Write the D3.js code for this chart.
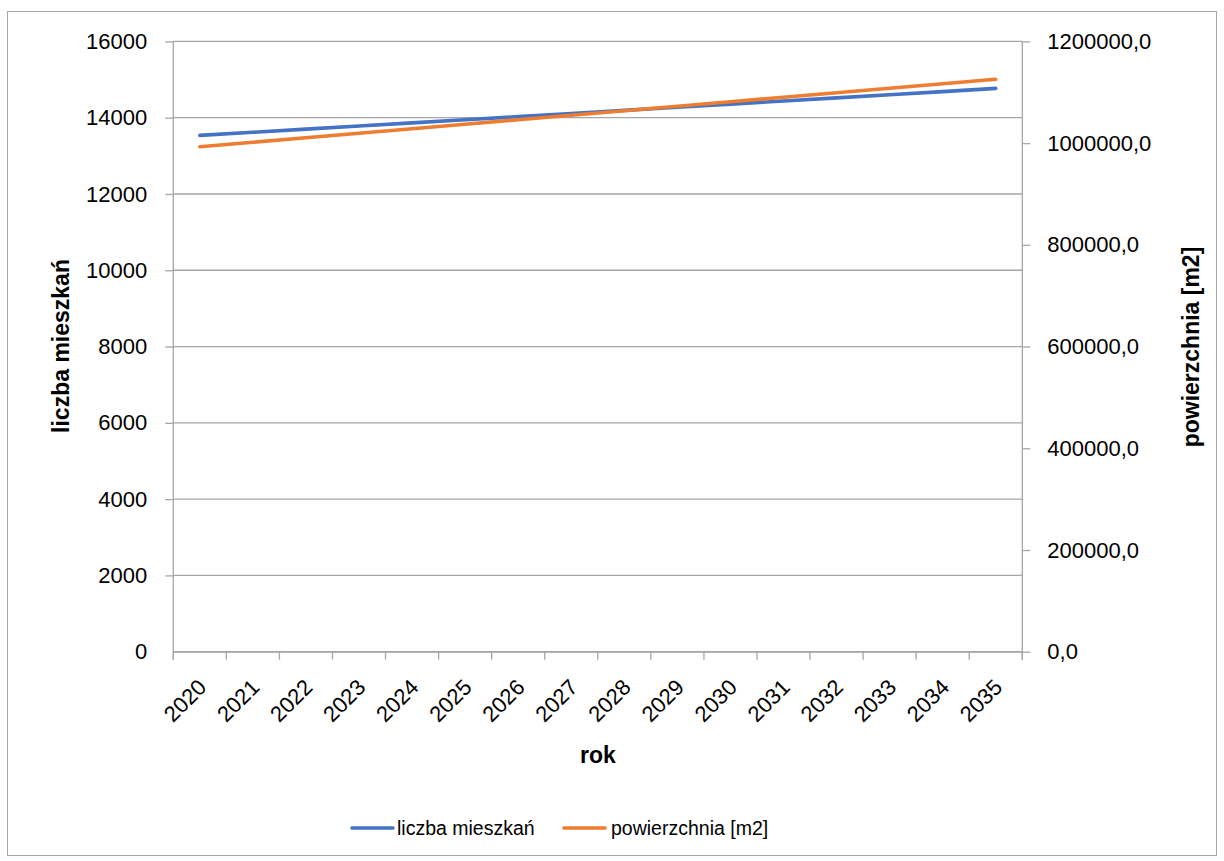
<!DOCTYPE html>
<html><head><meta charset="utf-8">
<script src="https://cdn.jsdelivr.net/npm/d3@7/dist/d3.min.js"></script>
<style>body{margin:0;background:#fff}svg{display:block}text{font-family:"Liberation Sans",Arial,sans-serif;fill:#000}</style>
</head><body>
<script>
const years = ["2020","2021","2022","2023","2024","2025","2026","2027","2028","2029","2030","2031","2032","2033","2034","2035"];
const mieszkania = [13536,13618,13700,13782,13864,13946,14028,14110,14192,14274,14356,14438,14520,14602,14684,14768];
const powierzchnia = [993000,1001800,1010700,1019500,1028300,1037200,1046000,1054800,1063700,1072500,1081300,1090200,1099000,1107800,1116700,1125500];
const leftTicks = [0,2000,4000,6000,8000,10000,12000,14000,16000];
const rightTicks = [0,200000,400000,600000,800000,1000000,1200000];
const seriesNames = ["liczba mieszkań","powierzchnia [m2]"];
const colors = ["#4472C4","#ED7D31"];

const W=1224,H=861;
const svg=d3.select("body").append("svg").attr("width",W).attr("height",H);
svg.append("rect").attr("x",7.5).attr("y",11.5).attr("width",1209).attr("height",844).attr("fill","#fff").attr("stroke","#a6a6a6").attr("stroke-width",1);

const L=173.3,R=1022.3,T=41.4,B=651.7;
const x=d3.scaleBand().domain(years).range([L,R]);
const yL=d3.scaleLinear().domain([0,16000]).range([B,T]);
const yR=d3.scaleLinear().domain([0,1200000]).range([B,T]);
const grid="#a6a6a6";

// gridlines
svg.append("g").selectAll("line").data(leftTicks).join("line")
  .attr("x1",L).attr("x2",R).attr("y1",d=>yL(d)).attr("y2",d=>yL(d))
  .attr("stroke",grid).attr("stroke-width",1.3);

// left axis
const gl=svg.append("g").attr("transform",`translate(${L},0)`)
  .call(d3.axisLeft(yL).tickValues(leftTicks).tickSize(8).tickPadding(18).tickFormat(d3.format("d")));
// right axis
const gr=svg.append("g").attr("transform",`translate(${R},0)`)
  .call(d3.axisRight(yR).tickValues(rightTicks).tickSize(8).tickPadding(17).tickFormat(d=>d.toFixed(1).replace(".",",")));
// bottom axis
const gb=svg.append("g").attr("transform",`translate(0,${B})`)
  .call(d3.axisBottom(x).tickSize(0).tickFormat(""));
svg.append("g").selectAll("line").data(d3.range(years.length+1)).join("line")
  .attr("x1",i=>L+i*x.step()).attr("x2",i=>L+i*x.step()).attr("y1",B).attr("y2",B+8)
  .attr("stroke",grid).attr("stroke-width",1.3);
svg.append("g").selectAll("text").data(years).join("text")
  .attr("transform",d=>`translate(${x(d)+x.bandwidth()/2-3},${B+26}) rotate(-45)`)
  .attr("text-anchor","end").attr("dy","0.7em").attr("font-size",22).text(d=>d);

[gl,gr,gb].forEach(g=>{
  g.select(".domain").attr("stroke",grid).attr("stroke-width",1.3);
  g.selectAll(".tick line").attr("stroke",grid).attr("stroke-width",1.3);
  g.selectAll(".tick text").attr("font-size",22).attr("fill","#000").style("font-family","Liberation Sans, Arial, sans-serif");
});
gl.select(".domain").attr("d",`M0,${B+8}V${T}`);
gr.select(".domain").attr("d",`M0,${B+8}V${T}`);
gl.selectAll(".tick").filter(d=>d===0).select("line").remove();
gr.selectAll(".tick").filter(d=>d===0).select("line").attr("x1",0);

// lines
const cx=d=>x(d)+x.bandwidth()/2;
svg.append("path").datum(years.map((y,i)=>[cx(y),yL(mieszkania[i])]))
  .attr("d",d3.line()).attr("fill","none").attr("stroke",colors[0]).attr("stroke-width",3.6).attr("stroke-linecap","round");
svg.append("path").datum(years.map((y,i)=>[cx(y),yR(powierzchnia[i])]))
  .attr("d",d3.line()).attr("fill","none").attr("stroke",colors[1]).attr("stroke-width",3.6).attr("stroke-linecap","round");

// axis titles
svg.append("text").attr("transform","translate(69,346) rotate(-90)").attr("text-anchor","middle")
  .attr("font-size",23).attr("font-weight","bold").text("liczba mieszkań");
svg.append("text").attr("transform","translate(1199,347) rotate(-90)").attr("text-anchor","middle")
  .attr("font-size",23).attr("font-weight","bold").text("powierzchnia [m2]");
svg.append("text").attr("x",598).attr("y",763).attr("text-anchor","middle")
  .attr("font-size",23).attr("font-weight","bold").text("rok");

// legend
const leg=[{x:352,tx:397},{x:564,tx:611}];
seriesNames.forEach((n,i)=>{
  svg.append("line").attr("x1",leg[i].x).attr("x2",leg[i].x+41).attr("y1",828).attr("y2",828)
    .attr("stroke",colors[i]).attr("stroke-width",3.6).attr("stroke-linecap","round");
  svg.append("text").attr("x",leg[i].tx).attr("y",835).attr("font-size",19.5).text(n);
});
</script>
</body></html>
